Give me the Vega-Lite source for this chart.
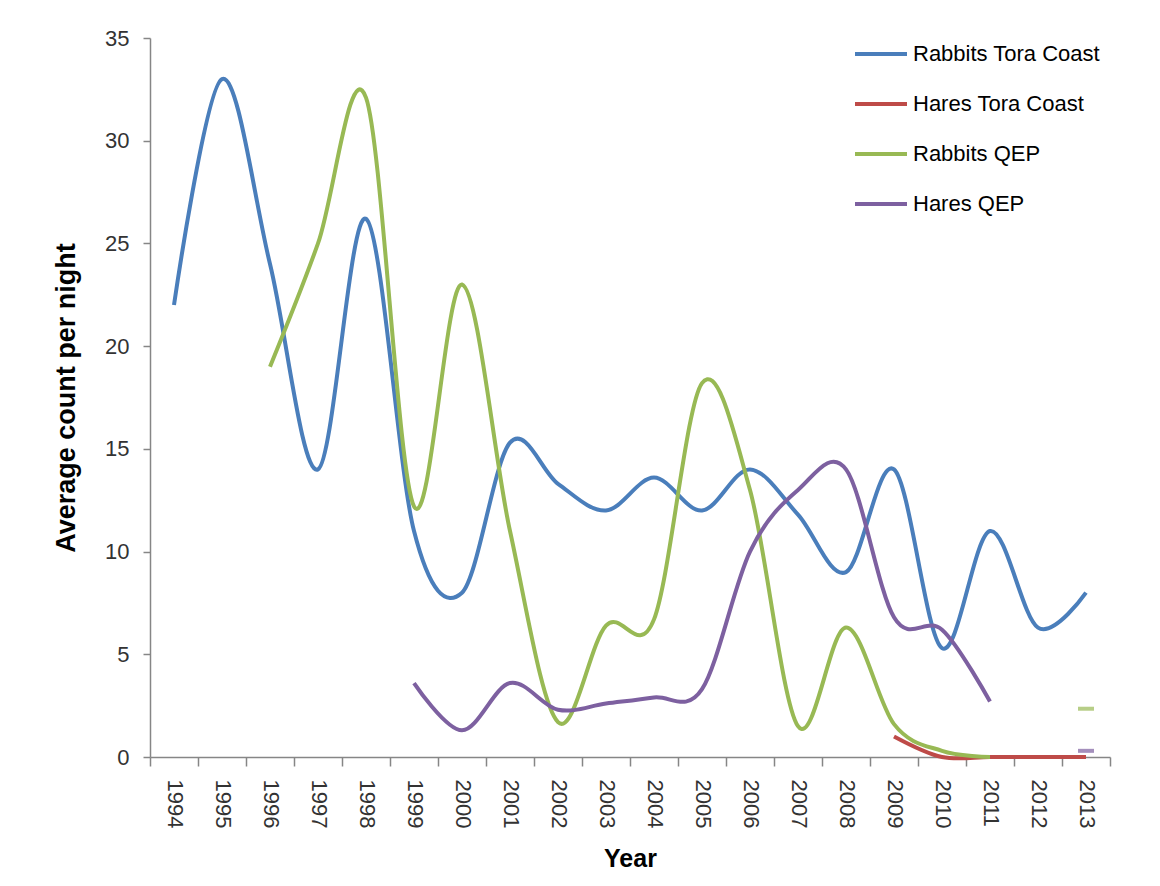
{
  "$schema": "https://vega.github.io/schema/vega-lite/v6.json",
  "width": 960,
  "height": 719,
  "autosize": {"type": "none"},
  "padding": {"left": 150, "top": 38, "right": 50, "bottom": 129},
  "background": "white",
  "config": {"view": {"stroke": null}, "font": "Liberation Sans"},
  "data": {"values": [
    {"year": 1994, "series": "Rabbits Tora Coast", "value": 22},
    {"year": 1995, "series": "Rabbits Tora Coast", "value": 33},
    {"year": 1996, "series": "Rabbits Tora Coast", "value": 24},
    {"year": 1997, "series": "Rabbits Tora Coast", "value": 14},
    {"year": 1998, "series": "Rabbits Tora Coast", "value": 26.2},
    {"year": 1999, "series": "Rabbits Tora Coast", "value": 11},
    {"year": 2000, "series": "Rabbits Tora Coast", "value": 8},
    {"year": 2001, "series": "Rabbits Tora Coast", "value": 15.3},
    {"year": 2002, "series": "Rabbits Tora Coast", "value": 13.3},
    {"year": 2003, "series": "Rabbits Tora Coast", "value": 12},
    {"year": 2004, "series": "Rabbits Tora Coast", "value": 13.6},
    {"year": 2005, "series": "Rabbits Tora Coast", "value": 12},
    {"year": 2006, "series": "Rabbits Tora Coast", "value": 14},
    {"year": 2007, "series": "Rabbits Tora Coast", "value": 11.8},
    {"year": 2008, "series": "Rabbits Tora Coast", "value": 9},
    {"year": 2009, "series": "Rabbits Tora Coast", "value": 14},
    {"year": 2010, "series": "Rabbits Tora Coast", "value": 5.3},
    {"year": 2011, "series": "Rabbits Tora Coast", "value": 11},
    {"year": 2012, "series": "Rabbits Tora Coast", "value": 6.3},
    {"year": 2013, "series": "Rabbits Tora Coast", "value": 8},
    {"year": 2009, "series": "Hares Tora Coast", "value": 1.0},
    {"year": 2010, "series": "Hares Tora Coast", "value": 0},
    {"year": 2011, "series": "Hares Tora Coast", "value": 0},
    {"year": 2012, "series": "Hares Tora Coast", "value": 0},
    {"year": 2013, "series": "Hares Tora Coast", "value": 0},
    {"year": 1996, "series": "Rabbits QEP", "value": 19},
    {"year": 1997, "series": "Rabbits QEP", "value": 25},
    {"year": 1998, "series": "Rabbits QEP", "value": 32.1},
    {"year": 1999, "series": "Rabbits QEP", "value": 12.2},
    {"year": 2000, "series": "Rabbits QEP", "value": 23},
    {"year": 2001, "series": "Rabbits QEP", "value": 11},
    {"year": 2002, "series": "Rabbits QEP", "value": 1.7},
    {"year": 2003, "series": "Rabbits QEP", "value": 6.4},
    {"year": 2004, "series": "Rabbits QEP", "value": 6.7},
    {"year": 2005, "series": "Rabbits QEP", "value": 18.2},
    {"year": 2006, "series": "Rabbits QEP", "value": 13},
    {"year": 2007, "series": "Rabbits QEP", "value": 1.5},
    {"year": 2008, "series": "Rabbits QEP", "value": 6.3},
    {"year": 2009, "series": "Rabbits QEP", "value": 1.6},
    {"year": 2010, "series": "Rabbits QEP", "value": 0.3},
    {"year": 2011, "series": "Rabbits QEP", "value": 0},
    {"year": 2013, "series": "Rabbits QEP", "value": 2.35},
    {"year": 1999, "series": "Hares QEP", "value": 3.6},
    {"year": 2000, "series": "Hares QEP", "value": 1.3},
    {"year": 2001, "series": "Hares QEP", "value": 3.6},
    {"year": 2002, "series": "Hares QEP", "value": 2.3},
    {"year": 2003, "series": "Hares QEP", "value": 2.6},
    {"year": 2004, "series": "Hares QEP", "value": 2.9},
    {"year": 2005, "series": "Hares QEP", "value": 3.3},
    {"year": 2006, "series": "Hares QEP", "value": 10},
    {"year": 2007, "series": "Hares QEP", "value": 13},
    {"year": 2008, "series": "Hares QEP", "value": 14.0},
    {"year": 2009, "series": "Hares QEP", "value": 6.8},
    {"year": 2010, "series": "Hares QEP", "value": 6.2},
    {"year": 2011, "series": "Hares QEP", "value": 2.7},
    {"year": 2013, "series": "Hares QEP", "value": 0.3}
  ]},
  "encoding": {
    "x": {
      "field": "year", "type": "ordinal", "bandPosition": 0.5,
      "scale": {"type": "band", "paddingInner": 0, "paddingOuter": 0},
      "axis": {
        "title": "Year", "titleFontSize": 25, "titleFontWeight": "bold", "titleColor": "black", "titlePadding": 19,
        "labelAngle": 90, "labelAlign": "left", "labelBaseline": "middle",
        "labelFontSize": 22, "labelColor": "#333333", "labelPadding": 13,
        "tickBand": "extent", "tickSize": 9, "tickColor": "#868686", "domainColor": "#868686",
        "tickWidth": 1.5, "domainWidth": 1.5, "grid": false
      }
    },
    "y": {
      "field": "value", "type": "quantitative",
      "scale": {"domain": [0, 35], "nice": false},
      "axis": {
        "title": "Average count  per night", "titleFontSize": 27, "titleFontWeight": "bold", "titleColor": "black", "titlePadding": 24,
        "values": [0, 5, 10, 15, 20, 25, 30, 35],
        "labelFontSize": 22, "labelColor": "#333333", "labelPadding": 14,
        "tickSize": 7, "tickColor": "#868686", "domainColor": "#868686",
        "tickWidth": 1.5, "domainWidth": 1.5, "grid": false
      }
    },
    "color": {
      "field": "series", "type": "nominal",
      "scale": {
        "domain": ["Rabbits Tora Coast", "Hares Tora Coast", "Rabbits QEP", "Hares QEP"],
        "range": ["#4A7EBB", "#BE4B48", "#98B954", "#7D60A0"]
      },
      "legend": {
        "orient": "none", "legendX": 703, "legendY": -12, "title": null,
        "symbolType": "stroke", "symbolSize": 2704, "symbolStrokeWidth": 4, "symbolOpacity": 1,
        "labelFontSize": 22, "labelColor": "black", "labelOffset": 4, "labelLimit": 0,
        "rowPadding": 11, "padding": 0
      }
    }
  },
  "layer": [
    {
      "transform": [{"filter": "!(datum.year == 2013 && (datum.series == 'Rabbits QEP' || datum.series == 'Hares QEP'))"}],
      "mark": {"type": "line", "interpolate": "cardinal", "tension": 0, "strokeWidth": 4}
    },
    {
      "transform": [{"filter": "datum.year == 2013 && (datum.series == 'Rabbits QEP' || datum.series == 'Hares QEP')"}],
      "mark": {"type": "tick", "orient": "horizontal", "thickness": 4, "size": 16}
    }
  ]
}
